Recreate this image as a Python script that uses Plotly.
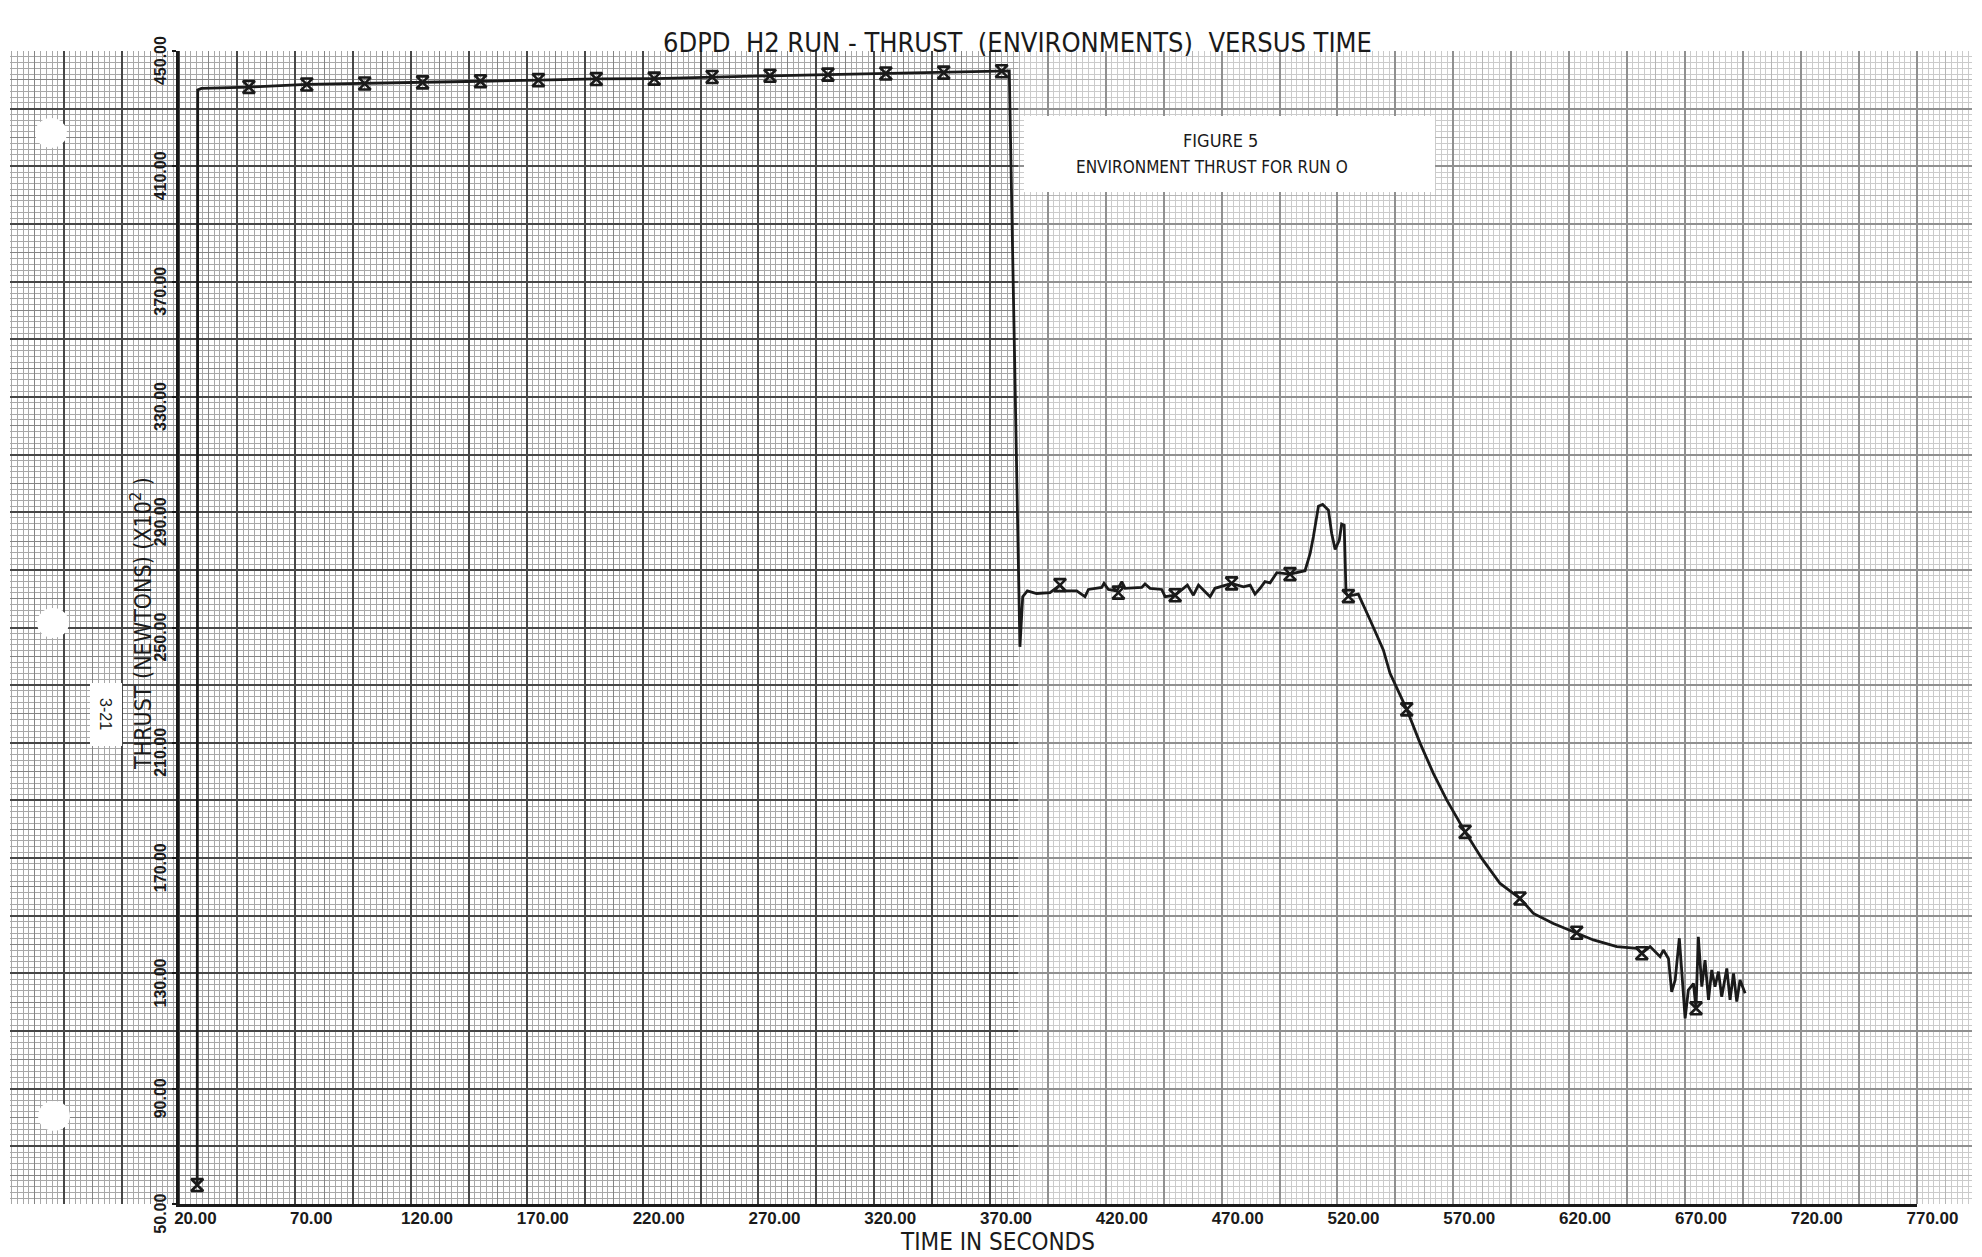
import plotly.graph_objects as go

# Thrust history, time in seconds, thrust in newtons x 10^2
time_s = [27.7, 27.9, 29.5, 50, 75, 100, 125, 150, 175, 200, 225, 250, 275, 300, 325, 350, 375, 378.3,
          382.9, 384.1, 386.1, 390.1, 395.9, 397.6, 400.2, 402.4, 407.4, 411.0, 412.5, 418.2, 419.2, 421.1,
          424.7, 426.9, 428.3, 435.5, 436.9, 439.1, 444.1, 445.6, 449.9, 453.5, 455.2, 457.8, 460.0, 462.1,
          465.0, 467.1, 472.2, 474.3, 479.4, 482.3, 484.4, 486.6, 488.7, 490.9, 493.8, 499.5, 506.0, 508.2,
          509.6, 511.8, 513.6, 516.1, 517.5, 519.0, 520.8, 521.8, 522.9, 523.7, 524.7, 529.0, 534.1, 539.8,
          542.7, 549.9, 555.7, 561.4, 567.2, 575.1, 582.3, 590.2, 598.8, 604.6, 613.2, 623.3, 630.5, 640.6,
          649.2, 651.4, 655.0, 659.3, 660.7, 662.9, 664.3, 665.8, 667.6, 668.6, 670.1, 671.5, 673.7, 674.8,
          675.8, 677.3, 678.7, 680.2, 681.6, 683.0, 684.5, 685.9, 688.1, 689.5, 691.0, 692.4, 693.8, 696.0]
thrust = [56.6, 436.5, 437.0, 437.5, 438.4, 438.7, 439.1, 439.5, 439.9, 440.3, 440.4, 441.0, 441.4, 441.8, 442.2, 442.5, 443.0, 443.1,
          243.3, 260.7, 262.7, 261.8, 262.1, 263.2, 264.7, 262.7, 262.7, 260.7, 263.2, 263.9, 265.3, 263.2,
          262.7, 265.9, 263.6, 263.9, 265.1, 263.6, 263.2, 260.7, 261.2, 263.6, 264.7, 261.2, 264.7, 263.0,
          260.7, 263.6, 264.7, 265.3, 264.1, 264.7, 261.6, 263.6, 265.9, 265.5, 269.0, 268.5, 269.7, 275.7,
          281.5, 292.1, 292.7, 290.7, 282.6, 277.1, 280.3, 285.9, 285.5, 261.8, 260.9, 261.6, 252.6, 242.2,
          234.1, 221.6, 209.8, 199.4, 190.1, 179.1, 169.9, 161.2, 156.0, 150.8, 147.3, 144.1, 141.6, 139.3,
          138.7, 137.0, 139.3, 135.8, 138.1, 135.2, 123.6, 127.7, 142.2, 131.2, 114.4, 124.2, 126.5, 117.9,
          142.7, 125.4, 134.6, 120.8, 131.2, 125.4, 130.6, 121.9, 131.7, 120.8, 130.0, 120.2, 127.7, 123.1]

# Plotted symbols along the trace
mark_time = [27.7, 50, 75, 100, 125, 150, 175, 200, 225, 250, 275, 300, 325, 350, 375,
             400.2, 425.4, 449.9, 474.3, 499.5, 524.7, 549.9, 575.1, 598.8, 623.3, 651.4, 674.8]
mark_thrust = [56.6, 437.5, 438.4, 438.7, 439.1, 439.5, 439.9, 440.3, 440.4, 441.0, 441.4, 441.8, 442.2, 442.5, 443.0,
               264.7, 262.1, 261.2, 265.3, 268.5, 260.9, 221.6, 179.1, 156.0, 144.1, 137.0, 117.9]

x_ticks = [20, 70, 120, 170, 220, 270, 320, 370, 420, 470, 520, 570, 620, 670, 720, 770]
x_tick_text = ["20.00", "70.00", "120.00", "170.00", "220.00", "270.00", "320.00", "370.00",
               "420.00", "470.00", "520.00", "570.00", "620.00", "670.00", "720.00", "770.00"]
y_ticks = [50, 90, 130, 170, 210, 250, 290, 330, 370, 410, 450]
y_tick_text = ["50.00", "90.00", "130.00", "170.00", "210.00", "250.00", "290.00",
               "330.00", "370.00", "410.00", "450.00"]

assert len(time_s) == len(thrust) and len(mark_time) == len(mark_thrust)

W, H = 1982, 1257
ML, MR, MT, MB = 10, 10, 51, 53
PW, PH = W - ML - MR, H - MT - MB

# chart frame inside the sheet of graph paper
X0_PX, X1_PX = 179.4, 1916.5
d0 = (X0_PX - ML) / PW
d1 = (X1_PX - ML) / PW
span = 750 / (d1 - d0)
g_left = 20 - d0 * span
g_right = 770 + (1 - d1) * span

INK = "#1a1a1a"
PLOT_FONT = "Liberation Sans Narrow, DejaVu Sans Condensed, Liberation Sans, sans-serif"
NUM_FONT = "Liberation Sans, Arial, sans-serif"


def gx(px):
    return g_left + (px - ML) / PW * (g_right - g_left)


def gy(py):
    return 50 + (MT + PH - py) / PH * 400


def paper_x(px):
    return (px - ML) / PW


def paper_y(py):
    return (MT + PH - py) / PH


fig = go.Figure()

# empty traces so that both graph-paper layers are built as subplots
fig.add_trace(go.Scatter(x=[], y=[], xaxis="x", yaxis="y", showlegend=False, hoverinfo="skip"))
fig.add_trace(go.Scatter(x=[], y=[], xaxis="x2", yaxis="y2", showlegend=False, hoverinfo="skip"))

fig.add_trace(go.Scatter(
    x=time_s, y=thrust, xaxis="x3", yaxis="y3", mode="lines",
    line=dict(color=INK, width=2.8), hoverinfo="skip", showlegend=False))
fig.add_trace(go.Scatter(
    x=mark_time, y=mark_thrust, xaxis="x3", yaxis="y3", mode="markers",
    marker=dict(symbol="hourglass-open", size=12, color=INK, line=dict(color=INK, width=2.6)),
    showlegend=False))

MINOR_C = "#a8a8a8"
MED_C = "#858585"
MAJOR_C = "#474747"

layout = dict(
    width=W, height=H,
    margin=dict(l=ML, r=MR, t=MT, b=MB, pad=0, autoexpand=False),
    paper_bgcolor="white", plot_bgcolor="rgba(0,0,0,0)",
    showlegend=False,
    # graph paper: fine and half-division rulings
    xaxis=dict(domain=[0, 1], range=[g_left, g_right], anchor="y", automargin=False,
               tick0=20, dtick=12.5, showgrid=True, gridcolor=MED_C, gridwidth=1,
               minor=dict(tick0=20, dtick=2.5, showgrid=True, gridcolor=MINOR_C, gridwidth=1),
               showticklabels=False, ticks="", zeroline=False, showline=False),
    yaxis=dict(domain=[0, 1], range=[50, 450], anchor="x", automargin=False,
               tick0=50, dtick=10, showgrid=True, gridcolor=MED_C, gridwidth=1,
               minor=dict(tick0=50, dtick=2, showgrid=True, gridcolor=MINOR_C, gridwidth=1),
               showticklabels=False, ticks="", zeroline=False, showline=False),
    # graph paper: heavy rulings
    xaxis2=dict(domain=[0, 1], range=[g_left, g_right], anchor="y2", automargin=False,
                tick0=20, dtick=25, showgrid=True, gridcolor=MAJOR_C, gridwidth=1.6,
                showticklabels=False, ticks="", zeroline=False, showline=False),
    yaxis2=dict(domain=[0, 1], range=[50, 450], anchor="x2", automargin=False,
                tick0=50, dtick=20, showgrid=True, gridcolor=MAJOR_C, gridwidth=1.6,
                showticklabels=False, ticks="", zeroline=False, showline=False),
    # chart axes
    xaxis3=dict(domain=[d0, d1], range=[20, 770], anchor="y3", automargin=False,
                tickmode="array", tickvals=x_ticks, ticktext=x_tick_text,
                showgrid=False, zeroline=False, showline=True, linecolor=INK, linewidth=3,
                ticks="", ticklabelshift=16, ticklabelstandoff=-3,
                tickfont=dict(family=NUM_FONT, size=17, color=INK, weight="bold")),
    yaxis3=dict(domain=[0, 1], range=[50, 450], anchor="x3", automargin=False,
                tickmode="array", tickvals=y_ticks, ticktext=y_tick_text, tickangle=-90,
                showgrid=False, zeroline=False, showline=True, linecolor=INK, linewidth=3,
                ticks="outside", ticklen=4, tickwidth=2, tickcolor=INK, ticklabelshift=12,
                ticklabelstandoff=0,
                tickfont=dict(family=NUM_FONT, size=16, color=INK, weight="bold")),
)
fig.update_layout(**layout)

shapes = []
# lighter, faded paper towards the right
shapes.append(dict(type="rect", xref="x2", yref="y2", layer="between",
                   x0=gx(1018), x1=gx(1972), y0=50, y1=450,
                   fillcolor="rgba(255,255,255,0.40)", line=dict(width=0)))
# caption block
shapes.append(dict(type="rect", xref="x2", yref="y2", layer="between",
                   x0=gx(1024), x1=gx(1435), y0=gy(192), y1=gy(116),
                   fillcolor="white", line=dict(width=0)))
# page number block
shapes.append(dict(type="rect", xref="x2", yref="y2", layer="between",
                   x0=gx(90), x1=gx(122), y0=gy(746), y1=gy(683),
                   fillcolor="white", line=dict(width=0)))
# binder holes
for cx, cy in [(51, 133), (53, 623), (54, 1116)]:
    shapes.append(dict(type="circle", xref="x2", yref="y2", layer="between",
                       x0=gx(cx - 16), x1=gx(cx + 16), y0=gy(cy + 15), y1=gy(cy - 15),
                       fillcolor="white", line=dict(width=0)))
fig.update_layout(shapes=shapes)

annotations = [
    dict(text="6DPD  H2 RUN - THRUST  (ENVIRONMENTS)  VERSUS TIME",
         x=paper_x(1017), y=paper_y(42), xref="paper", yref="paper",
         xanchor="center", yanchor="middle", showarrow=False,
         font=dict(family=PLOT_FONT, size=27, color=INK)),
    dict(text="TIME IN SECONDS", x=paper_x(997), y=paper_y(1242), xref="paper", yref="paper",
         xanchor="center", yanchor="middle", showarrow=False, borderpad=0,
         font=dict(family=PLOT_FONT, size=24, color=INK)),
    dict(text="THRUST (NEWTONS) (X10<sup>2</sup> )", x=paper_x(141), y=paper_y(624),
         xref="paper", yref="paper", xanchor="center", yanchor="middle", textangle=-90,
         showarrow=False, font=dict(family=PLOT_FONT, size=23, color=INK)),
    dict(text="FIGURE 5", x=paper_x(1220), y=paper_y(140), xref="paper", yref="paper",
         xanchor="center", yanchor="middle", showarrow=False,
         font=dict(family=PLOT_FONT, size=18, color=INK)),
    dict(text="ENVIRONMENT THRUST FOR RUN O", x=paper_x(1212), y=paper_y(167),
         xref="paper", yref="paper", xanchor="center", yanchor="middle", showarrow=False,
         font=dict(family=PLOT_FONT, size=17, color=INK)),
    dict(text="3-21", x=paper_x(106), y=paper_y(714), xref="paper", yref="paper",
         xanchor="center", yanchor="middle", textangle=90, showarrow=False,
         font=dict(family=NUM_FONT, size=16, color=INK)),
]
fig.update_layout(annotations=annotations)

fig.write_html("out.html")
